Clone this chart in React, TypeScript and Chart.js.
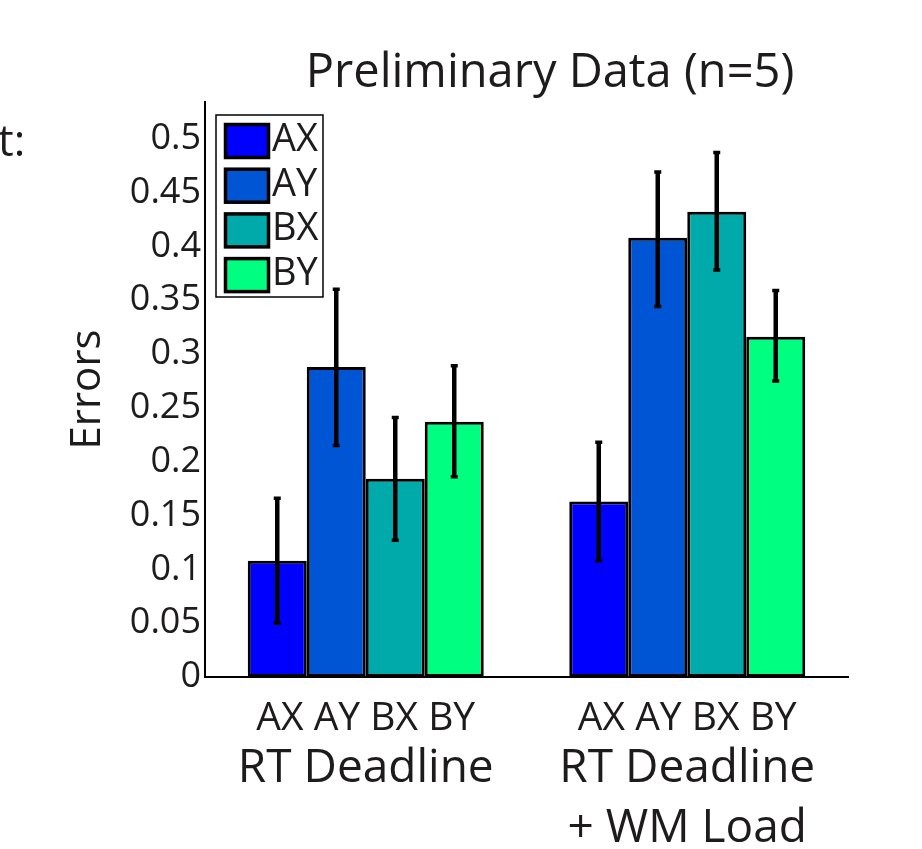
import React, { useEffect, useRef } from 'react';
import { Chart, registerables } from 'chart.js';

Chart.register(...registerables);

// ---- data ----
const groupLabels: (string | string[])[] = ['RT Deadline', ['RT Deadline', '+ WM Load']];
const seriesNames = ['AX', 'AY', 'BX', 'BY'];
const seriesColors = ['#0000FF', '#0055D4', '#00AAAA', '#00FF80'];

const meanAX = [0.108, 0.163];
const meanAY = [0.288, 0.408];
const meanBX = [0.184, 0.432];
const meanBY = [0.237, 0.316];

const lowAX = [0.05, 0.108];
const lowAY = [0.215, 0.344];
const lowBX = [0.127, 0.378];
const lowBY = [0.186, 0.275];

const highAX = [0.166, 0.218];
const highAY = [0.36, 0.469];
const highBX = [0.241, 0.487];
const highBY = [0.289, 0.359];

const yTicksStep = 0.05;
const yMax = 0.534;
const titleText = 'Preliminary Data (n=5)';
const yTitle = 'Errors';
const sideFragment = 't:';

const means = [meanAX, meanAY, meanBX, meanBY];
const lows = [lowAX, lowAY, lowBX, lowBY];
const highs = [highAX, highAY, highBX, highBY];

const FONT = "'Open Sans', 'Noto Sans', sans-serif";
const TEXT = '#1e1b1c';

const overlayPlugin = {
  id: 'overlay',
  afterDatasetsDraw(chart: any) {
    const ctx = chart.ctx;
    const y = chart.scales.y;
    ctx.save();
    ctx.strokeStyle = '#000';
    chart.data.datasets.forEach((_ds: any, i: number) => {
      const meta = chart.getDatasetMeta(i);
      meta.data.forEach((bar: any, j: number) => {
        const lo = y.getPixelForValue(lows[i][j]);
        const hi = y.getPixelForValue(highs[i][j]);
        ctx.lineWidth = 4.5;
        ctx.beginPath();
        ctx.moveTo(bar.x, lo);
        ctx.lineTo(bar.x, hi);
        ctx.stroke();
        ctx.lineWidth = 3.5;
        ctx.beginPath();
        ctx.moveTo(bar.x - 3.5, lo);
        ctx.lineTo(bar.x + 3.5, lo);
        ctx.moveTo(bar.x - 3.5, hi);
        ctx.lineTo(bar.x + 3.5, hi);
        ctx.stroke();
      });
    });
    ctx.restore();
  },
  afterDraw(chart: any) {
    const ctx = chart.ctx;
    const ca = chart.chartArea;
    ctx.save();
    // legend
    const bx = ca.left + 11;
    const by = ca.top + 13;
    const bw = 107;
    const bh = 182;
    ctx.fillStyle = '#fff';
    ctx.fillRect(bx, by, bw, bh);
    ctx.strokeStyle = '#000';
    ctx.lineWidth = 1.5;
    ctx.strokeRect(bx, by, bw, bh);
    seriesNames.forEach((name, i) => {
      const sy = by + 8 + i * 44.7;
      ctx.fillStyle = seriesColors[i];
      ctx.fillRect(bx + 9.5, sy + 1.5, 43, 33);
      ctx.lineWidth = 3.5;
      ctx.strokeStyle = '#000';
      ctx.strokeRect(bx + 9.5, sy + 1.5, 43, 33);
      ctx.fillStyle = TEXT;
      ctx.font = `38px ${FONT}`;
      ctx.textAlign = 'left';
      ctx.textBaseline = 'alphabetic';
      ctx.fillText(name, bx + 56, sy + 28);
    });
    // title
    ctx.fillStyle = TEXT;
    ctx.font = `47px ${FONT}`;
    ctx.textAlign = 'center';
    ctx.textBaseline = 'alphabetic';
    ctx.fillText(titleText, 550, 87);
    // cut-off fragment at the left edge
    ctx.font = `44px ${FONT}`;
    ctx.textAlign = 'left';
    ctx.fillText(sideFragment, -2, 156);
    ctx.restore();
  },
};

export default function App() {
  const ref = useRef<HTMLCanvasElement>(null);
  useEffect(() => {
    if (!ref.current) return;
    const chart = new Chart(ref.current, {
      type: 'bar',
      data: {
        labels: groupLabels as any,
        datasets: seriesNames.map((name, i) => ({
          label: name,
          data: means[i],
          backgroundColor: seriesColors[i],
          borderColor: '#000',
          borderWidth: 3,
          borderSkipped: false,
          xAxisID: 'x',
          yAxisID: 'y',
        })),
      },
      options: {
        animation: false,
        responsive: true,
        maintainAspectRatio: false,
        layout: { padding: { left: 0, right: 74, top: 102, bottom: 0 } },
        datasets: { bar: { categoryPercentage: 0.734, barPercentage: 1.0 } },
        plugins: {
          legend: { display: false },
          title: { display: false },
          tooltip: { enabled: false },
        },
        scales: {
          x: {
            type: 'category',
            position: 'bottom',
            weight: 0,
            offset: true,
            grid: { display: false, drawTicks: false },
            border: { display: true, color: '#000', width: 2 },
            ticks: {
              padding: 18,
              color: TEXT,
              font: { family: FONT, size: 39 },
              maxRotation: 0,
              autoSkip: false,
              callback: () => seriesNames.join(' '),
            },
            afterFit: (s: any) => { s.height = 62; },
          },
          x2: {
            type: 'category',
            position: 'bottom',
            weight: 1,
            labels: groupLabels as any,
            offset: true,
            grid: { display: false, drawTicks: false },
            border: { display: false },
            ticks: {
              padding: 0,
              color: TEXT,
              font: { family: FONT, size: 46, lineHeight: 1.3 },
              maxRotation: 0,
              autoSkip: false,
            },
            afterFit: (s: any) => { s.height = 110; },
          },
          y: {
            min: 0,
            max: yMax,
            grid: { display: false, drawTicks: false },
            border: { display: true, color: '#000', width: 2 },
            ticks: {
              stepSize: yTicksStep,
              includeBounds: false,
              padding: 4,
              color: TEXT,
              font: { family: FONT, size: 36 },
              callback: (v: any) => String(+Number(v).toFixed(2)),
            },
            title: {
              display: true,
              text: yTitle,
              color: TEXT,
              font: { family: FONT, size: 42 },
              padding: { top: 63, bottom: 0 },
            },
            afterFit: (s: any) => { s.width = 205; },
          },
        },
      },
      plugins: [overlayPlugin],
    } as any);
    return () => chart.destroy();
  }, []);
  return (
    <div style={{ position: 'fixed', left: 0, top: 0, width: 922, height: 849, background: '#fff' }}>
      <canvas ref={ref} />
    </div>
  );
}
